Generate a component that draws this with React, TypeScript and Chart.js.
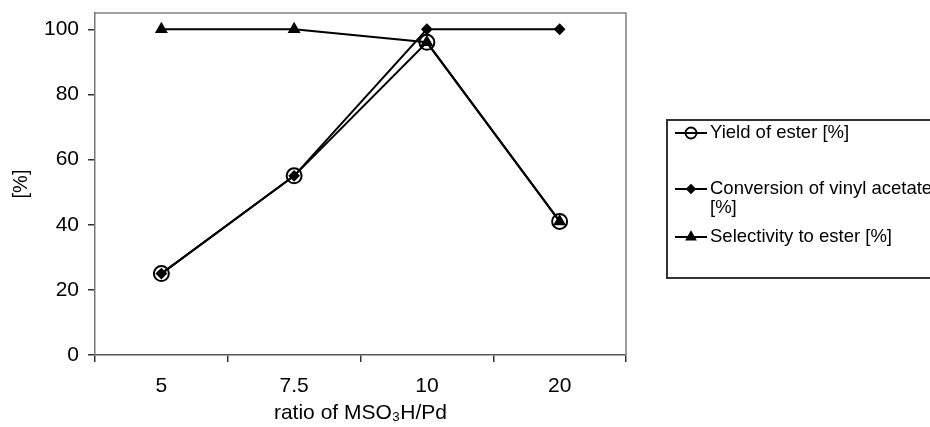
import React, { useEffect, useRef } from 'react';
import { Chart, registerables } from 'chart.js';
import { drawPoint } from 'chart.js/helpers';

Chart.register(...registerables);

const categories = ['5', '7.5', '10', '20'];
const yieldOfEster = [25, 55, 96, 41];
const conversionOfVinylAcetate = [25, 55, 100, 100];
const selectivityToEster = [100, 100, 96, 41];
const yTickValues = [0, 20, 40, 60, 80, 100];
const seriesLabels = [
  ['Yield of ester [%]'],
  ['Conversion of vinyl acetate', '[%]'],
  ['Selectivity to ester [%]'],
];
const xTitle = 'ratio of MSO\u2083H/Pd';
const yTitle = '[%]';

const FONT = '"Liberation Sans", Arial, Helvetica, sans-serif';

const frame = {
  id: 'plotFrame',
  beforeDatasetsDraw(chart: any) {
    const { ctx, chartArea } = chart;
    ctx.save();
    ctx.strokeStyle = '#808080';
    ctx.lineWidth = 1.5;
    ctx.beginPath();
    ctx.moveTo(chartArea.left, chartArea.top);
    ctx.lineTo(chartArea.right, chartArea.top);
    ctx.lineTo(chartArea.right, chartArea.bottom);
    ctx.stroke();
    ctx.restore();
  },
};

const boxLegend = {
  id: 'boxLegend',
  afterDraw(chart: any) {
    const { ctx } = chart;
    const left = 667;
    const top = 120;
    const bottom = 278;
    const rowOffsets = [13, 69, 117];
    ctx.save();
    ctx.strokeStyle = '#333';
    ctx.lineWidth = 2;
    ctx.strokeRect(left, top, 400, bottom - top);
    chart.data.datasets.forEach((ds: any, i: number) => {
      const y = top + rowOffsets[i];
      ctx.strokeStyle = '#000';
      ctx.lineWidth = 2;
      ctx.beginPath();
      ctx.moveTo(left + 8, y);
      ctx.lineTo(left + 40, y);
      ctx.stroke();
      ctx.fillStyle = ds.pointBackgroundColor;
      ctx.strokeStyle = '#000';
      ctx.lineWidth = 1.8;
      drawPoint(
        ctx,
        {
          pointStyle: ds.pointStyle,
          radius: ds.pointStyle === 'circle' ? 5.5 : ds.pointRadius - 0.5,
          borderWidth: 1.8,
          rotation: 0,
        } as any,
        left + 24,
        y
      );
      ctx.fillStyle = '#000';
      ctx.font = `18.5px ${FONT}`;
      ctx.textBaseline = 'middle';
      ctx.textAlign = 'left';
      const lines: string[] = ds.legendLines;
      lines.forEach((line, j) => {
        ctx.fillText(line, left + 43, y + j * 19);
      });
    });
    ctx.restore();
  },
};

export default function App() {
  const ref = useRef<HTMLCanvasElement | null>(null);

  useEffect(() => {
    if (!ref.current) return;
    const common = {
      borderColor: '#000',
      borderWidth: 2,
      pointBorderColor: '#000',
      pointBorderWidth: 2,
      tension: 0,
      fill: false,
    };
    const chart = new Chart(ref.current, {
      type: 'line',
      data: {
        labels: categories,
        datasets: [
          {
            ...common,
            label: seriesLabels[0].join(' '),
            legendLines: seriesLabels[0],
            data: yieldOfEster,
            pointStyle: 'circle',
            pointRadius: 7.5,
            pointBackgroundColor: 'rgba(0,0,0,0)',
          },
          {
            ...common,
            label: seriesLabels[1].join(' '),
            legendLines: seriesLabels[1],
            data: conversionOfVinylAcetate,
            pointStyle: 'rectRot',
            pointRadius: 4.5,
            pointBackgroundColor: '#000',
          },
          {
            ...common,
            label: seriesLabels[2].join(' '),
            legendLines: seriesLabels[2],
            data: selectivityToEster,
            pointStyle: 'triangle',
            pointRadius: 5.5,
            pointBackgroundColor: '#000',
          },
        ] as any,
      },
      options: {
        animation: false,
        responsive: true,
        maintainAspectRatio: false,
        layout: { padding: { top: 13, right: 304, left: 0, bottom: 0 } },
        plugins: { legend: { display: false }, tooltip: { enabled: false } },
        scales: {
          x: {
            type: 'category',
            offset: true,
            grid: {
              offset: true,
              drawOnChartArea: false,
              drawTicks: true,
              tickLength: 7,
              color: '#333',
              lineWidth: 1.5,
            },
            border: { color: '#555', width: 1.5 },
            ticks: { color: '#000', font: { family: FONT, size: 21 }, padding: 12, maxRotation: 0 },
            title: {
              display: true,
              text: xTitle,
              color: '#000',
              font: { family: FONT, size: 21 },
              padding: { top: 0, bottom: 1 },
            },
            afterFit: (s: any) => {
              s.height = 72;
              s.paddingLeft = 0;
              s.paddingRight = 0;
            },
          },
          y: {
            min: 0,
            max: 105,
            afterBuildTicks: (s: any) => {
              s.ticks = yTickValues.map((v) => ({ value: v }));
            },
            grid: { drawOnChartArea: false, drawTicks: true, tickLength: 7, color: '#333', lineWidth: 1.5 },
            border: { color: '#777', width: 1.5 },
            ticks: { color: '#000', font: { family: FONT, size: 21 }, padding: 9 },
            title: {
              display: true,
              text: yTitle,
              color: '#000',
              font: { family: FONT, size: 20 },
              padding: { top: 9, bottom: 0 },
            },
            afterFit: (s: any) => {
              s.width = 95;
              s.paddingTop = 0;
              s.paddingBottom = 0;
            },
          },
        },
      } as any,
      plugins: [frame, boxLegend],
    });
    return () => chart.destroy();
  }, []);

  return (
    <div style={{ position: 'absolute', left: 0, top: 0, width: 930, height: 427, background: '#fff' }}>
      <canvas ref={ref} />
    </div>
  );
}
